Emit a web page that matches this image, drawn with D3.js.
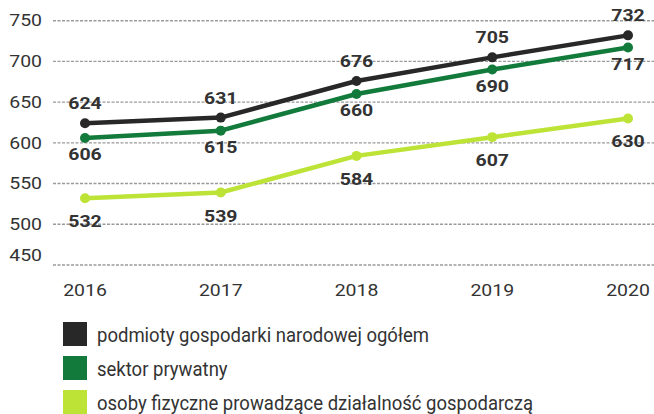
<!DOCTYPE html>
<html>
<head>
<meta charset="UTF-8">
<script src="https://cdn.jsdelivr.net/npm/d3@7"></script>
<style>
  body { margin: 0; background: #fff; }
  text { font-family: Roboto, "Noto Sans", sans-serif; fill: #333; }
</style>
</head>
<body>
<svg id="chart" width="654" height="414"></svg>
<script>
var years = ["2016", "2017", "2018", "2019", "2020"];
var ogolem = [624, 631, 676, 705, 732];
var prywatny = [606, 615, 660, 690, 717];
var osoby = [532, 539, 584, 607, 630];
var yTicks = [450, 500, 550, 600, 650, 700, 750];
var legendNames = [
  "podmioty gospodarki narodowej ogółem",
  "sektor prywatny",
  "osoby fizyczne prowadzące działalność gospodarczą"
];

var series = [
  { name: legendNames[0], values: ogolem, color: "#282828", dy: -14 },
  { name: legendNames[1], values: prywatny, color: "#127a3b", dy: 22 },
  { name: legendNames[2], values: osoby, color: "#bce336", dy: 29 }
];

var svg = d3.select("#chart");
var sx = 1.18; // text in the picture is a bit wide

var x = d3.scalePoint().domain(years).range([85, 628]);
var y = d3.scaleLinear().domain([450, 750]).range([265, 20.7]);

function stretched(sel, px, py) {
  return sel.attr("transform", function (d, i) {
    return "translate(" + px(d, i) + "," + py(d, i) + ") scale(" + sx + ",1)";
  });
}

// dashed grid
svg.append("g").selectAll("line")
  .data(yTicks).enter().append("line")
  .attr("x1", 53).attr("x2", 654)
  .attr("y1", function (d) { return y(d); })
  .attr("y2", function (d) { return y(d); })
  .attr("stroke", "#9a9a9a")
  .attr("stroke-width", 1.4)
  .attr("stroke-dasharray", "3,1.5");

// y labels (the bottom one sits above its line in the original)
stretched(svg.append("g").selectAll("text")
  .data(yTicks).enter().append("text")
  .attr("text-anchor", "end")
  .attr("dy", "0.35em")
  .attr("font-size", 16.5)
  .text(function (d) { return d; }),
  function () { return 42; },
  function (d, i) { return y(d) - (i === 0 ? 10 : 0); });

// x labels
stretched(svg.append("g").selectAll("text")
  .data(years).enter().append("text")
  .attr("text-anchor", "middle")
  .attr("font-size", 16.5)
  .text(function (d) { return d; }),
  function (d) { return x(d); },
  function () { return 296; });

var line = d3.line()
  .x(function (d, i) { return x(years[i]); })
  .y(function (d) { return y(d); });

series.forEach(function (s) {
  var g = svg.append("g");
  g.append("path")
    .datum(s.values)
    .attr("d", line)
    .attr("fill", "none")
    .attr("stroke", s.color)
    .attr("stroke-width", 4.5)
    .attr("stroke-linejoin", "round");
  g.selectAll("circle")
    .data(s.values).enter().append("circle")
    .attr("cx", function (d, i) { return x(years[i]); })
    .attr("cy", function (d) { return y(d); })
    .attr("r", 5)
    .attr("fill", s.color);
  stretched(g.selectAll("text")
    .data(s.values).enter().append("text")
    .attr("text-anchor", "middle")
    .attr("font-size", 16.5)
    .attr("font-weight", "bold")
    .text(function (d) { return d; }),
    function (d, i) { return x(years[i]); },
    function (d) { return y(d) + s.dy; });
});

// legend
var leg = svg.append("g").selectAll("g")
  .data(series).enter().append("g")
  .attr("transform", function (d, i) { return "translate(63," + (322 + i * 34) + ")"; });
leg.append("rect")
  .attr("width", 24).attr("height", 24)
  .attr("fill", function (d) { return d.color; });
leg.append("text")
  .attr("transform", "translate(34,19.5) scale(0.95,1)")
  .attr("font-size", 19.5)
  .text(function (d) { return d.name; });
</script>
</body>
</html>
